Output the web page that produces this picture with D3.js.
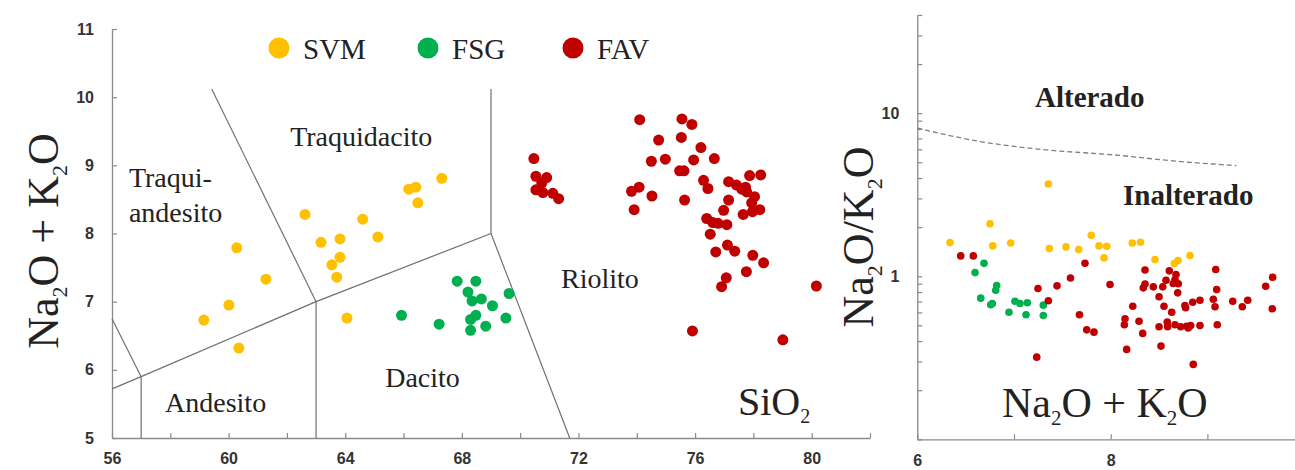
<!DOCTYPE html>
<html><head><meta charset="utf-8">
<script src="https://cdn.jsdelivr.net/npm/d3@7"></script>
<style>body{margin:0;background:#fff;} svg{display:block;}</style>
</head><body><svg id="c" width="1295" height="470"></svg>
<script>
// ---------- DATA ----------
// Left panel: TAS diagram (SiO2 vs Na2O+K2O)
const svmSiO2 = [59.15,60.01,60.28,60.35,61.28,62.62,63.17,63.82,63.82,63.54,63.71,64.06,64.60,65.12,66.18,66.42,66.49,67.31];
const svmAlk  = [6.73,6.95,7.79,6.32,7.33,8.28,7.87,7.92,7.65,7.54,7.36,6.76,8.21,7.95,8.65,8.68,8.45,8.81];
const fsgSiO2 = [65.93,67.22,67.84,68.48,68.21,68.35,68.67,69.05,69.62,68.48,68.30,69.51,68.82,68.30];
const fsgAlk  = [6.80,6.67,7.30,7.30,7.14,7.01,7.04,6.94,7.12,6.80,6.74,6.76,6.64,6.58];
const favSiO2 = [70.47,70.54,70.91,70.74,70.54,70.78,71.12,71.32,74.10,75.55,75.89,74.75,75.53,76.20,74.50,74.98,75.95,76.66,75.47,75.62,
  76.29,76.44,77.15,77.42,77.60,77.77,77.87,78.25,77.73,78.04,77.94,78.22,77.97,77.65,77.15,76.98,73.82,74.08,74.52,75.64,
  73.91,76.40,76.61,76.79,77.09,76.52,77.11,77.36,76.71,77.98,78.35,77.76,77.07,76.91,80.16,75.91,79.01];
const favAlk  = [9.10,8.84,8.82,8.74,8.64,8.60,8.59,8.51,9.67,9.68,9.60,9.37,9.41,9.26,9.06,9.09,9.08,9.10,8.92,8.92,
  8.78,8.66,8.76,8.71,8.65,8.61,8.85,8.86,8.68,8.54,8.45,8.35,8.32,8.28,8.49,8.34,8.62,8.68,8.55,8.49,
  8.35,8.22,8.16,8.15,8.13,7.99,7.83,7.74,7.73,7.68,7.57,7.44,7.35,7.22,7.23,6.57,6.44];

// Right panel: Na2O+K2O vs Na2O/K2O
const svmSum   = [7.355,6.752,6.338,6.780,6.966,7.365,7.538,7.669,7.799,7.879,7.959,7.931,8.223,8.308,8.458,8.658,8.696,8.820];
const svmRatio = [3.68,2.10,1.61,1.535,1.60,1.477,1.513,1.457,1.782,1.535,1.526,1.296,1.60,1.615,1.265,1.196,1.248,1.339];
const fsgSum   = [6.690,6.597,6.821,6.811,6.656,6.776,6.759,7.010,7.062,7.138,6.948,7.124,7.303,7.303];
const fsgRatio = [1.20,1.053,0.877,0.821,0.734,0.681,0.668,0.703,0.681,0.688,0.602,0.580,0.665,0.575];
const favSum   = [6.449,6.579,7.734,7.584,7.445,7.248,7.355,7.677,7.752,7.827,7.235,7.993,8.355,8.606,8.675,8.665,8.699,8.647,8.572,8.355,
  8.337,8.441,8.538,8.693,8.500,9.086,9.096,8.923,8.848,8.768,8.775,9.061,9.079,9.262,9.417,9.361,9.603,9.675,9.671,8.228,
  8.551,8.631,8.148,8.141,8.293,8.331,8.500,8.585,8.589,8.665,8.724,8.786,8.802,8.827,8.923,9.102,8.165,8.520,8.854];
const favRatio = [1.333,1.333,1.201,0.975,0.873,0.841,0.707,0.580,0.469,0.454,0.319,0.890,1.091,1.079,1.024,0.955,0.899,0.902,0.945,0.896,
  0.849,0.861,0.861,0.791,0.748,1.099,0.829,0.713,0.693,0.662,0.641,0.723,0.650,0.703,0.713,0.650,0.869,0.986,0.632,0.655,
  0.655,0.602,0.549,0.504,0.530,0.446,0.490,0.523,0.490,0.504,0.490,0.494,0.481,0.499,0.499,0.504,0.356,0.373,0.288];

// Alteration boundary (dashed)
const alterX = [6, 6.65, 7.34, 8.03, 8.72, 9.3];
const alterY = [8.1, 6.7, 5.95, 5.55, 5.05, 4.77];

// TAS field boundaries (SiO2, alkalis)
const fieldBoundaries = [
  [[56,5.72],[57,5.9],[63,7],[69,8],[71.7,5]],
  [[56,6.75],[57,5.9]],
  [[57,5],[57,5.9]],
  [[63,5],[63,7]],
  [[63,7],[59.42,10.12]],
  [[69,8],[69,10.12]]
];

// Series / legend
const seriesNames  = ["SVM","FSG","FAV"];
const seriesColors = ["#FFC000","#00B050","#C00000"];

// Ticks
const xTicksL  = [56,58,60,62,64,66,68,70,72,74,76,78,80,82];
const xLabelsL = [56,60,64,68,72,76,80];
const yTicksL  = [5,6,7,8,9,10,11];
const xTicksR  = [6,7,8,9,10];
const xLabelsR = [6,8];
const yTicksR  = [0.1,0.2,0.3,0.4,0.5,0.6,0.7,0.8,0.9,1,2,3,4,5,6,7,8,9,10,20,30,40];
const yLabelsR = [1,10];

// Field labels (data coordinates)
const fieldNames = ["Traquidacito","Traqui-","andesito","Andesito","Dacito","Riolito"];
const fieldX     = [62.11,56.58,56.58,57.82,65.37,71.40];
const fieldY     = [9.28,8.68,8.17,5.38,5.75,7.20];

// ---------- DRAW ----------
const svg = d3.select('#c');
const serif = '"Liberation Serif","Times New Roman",serif';
const sans = '"Liberation Sans",Arial,sans-serif';
const axisCol = '#8a8a8a';

function chem(sel, parts, size){
  parts.forEach((p,i)=>{
    const prevSub = i>0 && parts[i-1][1];
    const t = sel.append('tspan').text(p[0]);
    if(p[1]){ t.attr('font-size', size*0.5).attr('dy', size*0.2); }
    else if(prevSub){ t.attr('dy', -size*0.2); }
  });
}
const naK = [['Na',0],['2',1],['O + K',0],['2',1],['O',0]];

function styleAxis(g){
  g.select('.domain').attr('stroke',axisCol).attr('stroke-width',1.3);
  g.selectAll('.tick line').attr('stroke',axisCol).attr('stroke-width',1.2);
  g.selectAll('.tick text').attr('font-family',sans).attr('font-weight','bold').attr('font-size',16).attr('fill','#333');
}

// Left panel
const xL = d3.scaleLinear().domain([56,82]).range([112,870]);
const yL = d3.scaleLinear().domain([5,11]).range([438,29]);

const gxL = svg.append('g').attr('transform','translate(0,438)')
  .call(d3.axisBottom(xL).tickValues(xTicksL).tickSizeInner(-5).tickSizeOuter(0).tickPadding(15)
    .tickFormat(d=>xLabelsL.includes(d)?d:''));
styleAxis(gxL);
const gyL = svg.append('g').attr('transform','translate(112,0)')
  .call(d3.axisLeft(yL).tickValues(yTicksL).tickFormat(d3.format('d')).tickSizeInner(-5).tickSizeOuter(0).tickPadding(18));
styleAxis(gyL);

const line = d3.line().x(d=>xL(d[0])).y(d=>yL(d[1]));
svg.append('g').selectAll('path').data(fieldBoundaries).join('path')
  .attr('d',line).attr('fill','none').attr('stroke','#707070').attr('stroke-width',1.2);

svg.append('g').selectAll('text').data(fieldNames).join('text')
  .attr('x',(d,i)=>xL(fieldX[i])).attr('y',(d,i)=>yL(fieldY[i]))
  .attr('font-family',serif).attr('font-size',28).attr('fill','#222').text(d=>d);

const leftSets = [[svmSiO2,svmAlk],[fsgSiO2,fsgAlk],[favSiO2,favAlk]];
leftSets.forEach((s,k)=>{
  svg.append('g').selectAll('circle').data(s[0]).join('circle')
    .attr('cx',d=>xL(d)).attr('cy',(d,i)=>yL(s[1][i])).attr('r',5.5).attr('fill',seriesColors[k]);
});

// Legend
const legX = [279,428,573];
seriesNames.forEach((n,i)=>{
  svg.append('circle').attr('cx',legX[i]).attr('cy',48).attr('r',10.5).attr('fill',seriesColors[i]);
  svg.append('text').attr('x',legX[i]+24).attr('y',59).attr('font-family',serif).attr('font-size',29)
    .attr('fill','#222').text(n);
});

// Left titles
const tL = svg.append('text').attr('transform','translate(58,241) rotate(-90)').attr('text-anchor','middle')
  .attr('font-family',serif).attr('font-size',44).attr('fill','#222');
chem(tL, naK, 44);
const tS = svg.append('text').attr('x',738).attr('y',415).attr('font-family',serif).attr('font-size',40).attr('fill','#222');
chem(tS, [['SiO',0],['2',1]], 40);

// Right panel
const xR = d3.scaleLinear().domain([6,10]).range([917.3,1304.1]);
const yR = d3.scaleLog().domain([0.1,40]).range([439.3,15]);

const gxR = svg.append('g').attr('transform','translate(0,439.3)')
  .call(d3.axisBottom(xR).tickValues(xTicksR).tickSizeInner(-5).tickSizeOuter(0).tickPadding(15)
    .tickFormat(d=>xLabelsR.includes(d)?d:''));
styleAxis(gxR);
const gyR = svg.append('g').attr('transform','translate(917.3,0)')
  .call(d3.axisLeft(yR).tickValues(yTicksR).tickSizeInner(-5).tickSizeOuter(0).tickPadding(18)
    .tickFormat(d=>yLabelsR.includes(d)?d:''));
styleAxis(gyR);

svg.append('path').datum(alterX.map((v,i)=>[v,alterY[i]]))
  .attr('d',d3.line().curve(d3.curveMonotoneX).x(d=>xR(d[0])).y(d=>yR(d[1])))
  .attr('fill','none').attr('stroke','#808080').attr('stroke-width',1.3).attr('stroke-dasharray','5,3');

const rightSets = [[svmSum,svmRatio],[fsgSum,fsgRatio],[favSum,favRatio]];
rightSets.forEach((s,k)=>{
  svg.append('g').selectAll('circle').data(s[0]).join('circle')
    .attr('cx',d=>xR(d)).attr('cy',(d,i)=>yR(s[1][i])).attr('r',3.8).attr('fill',seriesColors[k]);
});

svg.append('text').attr('x',xR(7.217)).attr('y',yR(10.9)).attr('font-family',serif).attr('font-weight','bold')
  .attr('font-size',29).attr('fill','#222').text('Alterado');
svg.append('text').attr('x',xR(8.127)).attr('y',yR(2.73)).attr('font-family',serif).attr('font-weight','bold')
  .attr('font-size',29).attr('fill','#222').text('Inalterado');

const tR = svg.append('text').attr('transform','translate(873,237) rotate(-90)').attr('text-anchor','middle')
  .attr('font-family',serif).attr('font-size',44).attr('fill','#222');
chem(tR, [['Na',0],['2',1],['O/K',0],['2',1],['O',0]], 44);
const tX = svg.append('text').attr('x',1002).attr('y',417).attr('font-family',serif).attr('font-size',42).attr('fill','#222');
chem(tX, naK, 42);
</script></body></html>
